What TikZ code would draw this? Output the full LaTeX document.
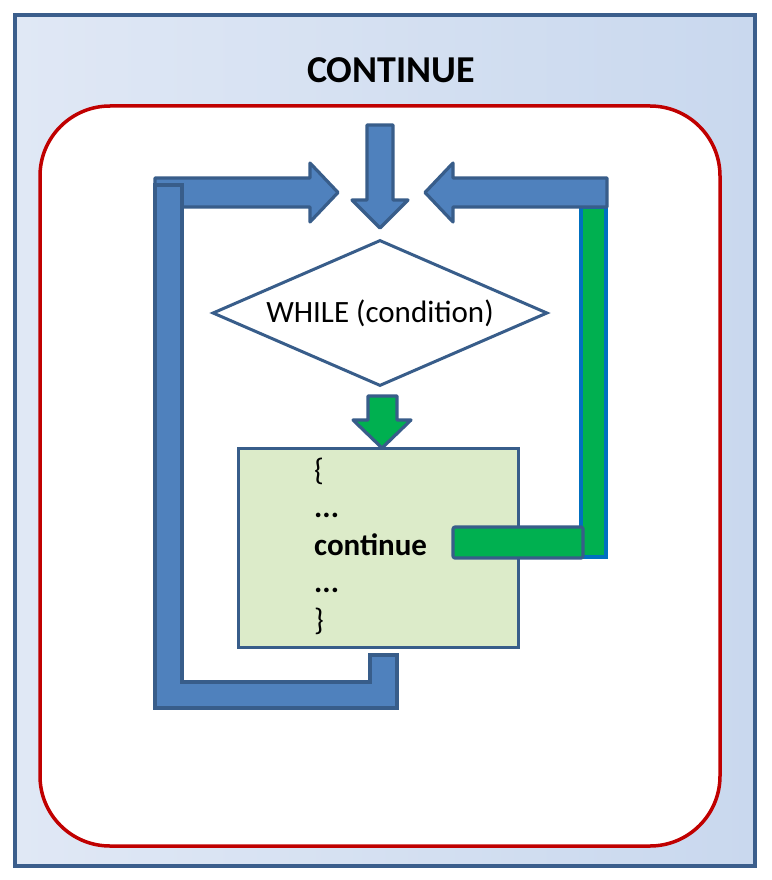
\documentclass[tikz,border=0pt]{standalone}
\usepackage{fontspec}
\setmainfont{Carlito}
\usetikzlibrary{shapes.geometric}
\definecolor{frameblue}{HTML}{3B5E8C}
\definecolor{bgA}{HTML}{E0E8F5}
\definecolor{bgB}{HTML}{C9D8EE}
\definecolor{loopred}{HTML}{C00000}
\definecolor{arrowfill}{HTML}{4F81BD}
\definecolor{arrowline}{HTML}{385D8A}
\definecolor{contgreen}{HTML}{00B050}
\definecolor{boxgreen}{HTML}{DCEBC9}
\definecolor{brightblue}{HTML}{0070C0}
\tikzset{
  blockarrow/.style={fill=arrowfill, draw=arrowline, line width=3.2pt, line join=round},
  greenarrow/.style={fill=contgreen, draw=arrowline, line width=3.2pt, line join=round},
  codeline/.style={anchor=base west, inner sep=0pt, font=\fontsize{31}{37}\selectfont},
}
\begin{document}
\begin{tikzpicture}[x=1pt,y=-1pt]
\useasboundingbox (0,0) rectangle (771,880);
\fill[white] (0,0) rectangle (771,880);
\shade[left color=bgA, right color=bgB] (15,15) rectangle (755,866);
\draw[frameblue, line width=3.2pt] (15,15) rectangle (755,866);
\draw[loopred, line width=3.5pt, fill=white, rounded corners=70pt] (40,106) rectangle (720,846);

\node[font=\fontsize{38}{44}\selectfont\bfseries] (title) at (391,70) {CONTINUE};

% entry arrow from top
\draw[blockarrow] (367,125) -- (393,125) -- (393,200) -- (408,200) -- (380,228) -- (352,200) -- (367,200) -- cycle;
% left loop-back arrow
\draw[blockarrow] (155,178) -- (310,178) -- (310,163) -- (338,192.5) -- (310,222) -- (310,207) -- (155,207) -- cycle;
% left bracket
\draw[blockarrow, line join=miter] (155,185) -- (155,708) -- (397,708) -- (397,655) -- (370,655) -- (370,682) -- (182,682) -- (182,185) -- cycle;
% green vertical bar (continue path)
\draw[fill=contgreen, draw=brightblue, line width=3.2pt] (581,207) rectangle (606,557);
% right loop-back arrow
\draw[blockarrow] (607,178) -- (453,178) -- (453,163) -- (425,192.5) -- (453,222) -- (453,207) -- (607,207) -- cycle;

% condition
\node[diamond, aspect=2.29, minimum width=335pt, minimum height=146pt, inner sep=0pt,
      draw=arrowline, line width=3pt, fill=white, font=\fontsize{31}{37}\selectfont] (while) at (380,313) {WHILE (condition)};

% green arrow into body
\draw[greenarrow] (368,396) -- (397,396) -- (397,420) -- (411,420) -- (382,448) -- (353,420) -- (368,420) -- cycle;

% body
\node[draw=arrowline, line width=3pt, fill=boxgreen, minimum width=280pt, minimum height=199pt, inner sep=0pt] (body) at (378,547.5) {};
\node[codeline] (l1) at (314,480) {\{};
\node[codeline] (l2) at (314,517.5) {\bfseries ...};
\node[codeline] (l3) at (314,555) {\bfseries continue};
\node[codeline] (l4) at (314,592.5) {\bfseries ...};
\node[codeline] (l5) at (314,630) {\}};

% green horizontal bar (continue jump)
\draw[greenarrow, rounded corners=2pt] (453,527) rectangle (583,558);
\end{tikzpicture}
\end{document}
